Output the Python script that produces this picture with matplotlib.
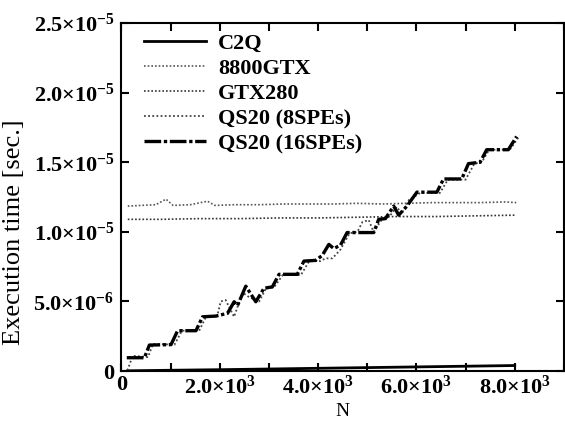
import numpy as np
import matplotlib
matplotlib.use("Agg")
import matplotlib.pyplot as plt
from matplotlib.ticker import FuncFormatter

# ── Data ─────────────────────────────────────────────────────────────────────
c2q_n = [128, 1000, 2000, 3000, 4000, 5000, 6000, 7000, 8000]
c2q_t = [0.02e-6, 0.06e-6, 0.10e-6, 0.15e-6, 0.20e-6, 0.25e-6, 0.30e-6, 0.35e-6, 0.40e-6]

gtx8800_n = [128, 400, 700, 905, 1050, 1400, 1750, 1900, 2300, 2800, 3300,
             3800, 4300, 4800, 5300, 5800, 6300, 6800, 7300, 7800, 8030]
gtx8800_t = [1.185e-5, 1.19e-5, 1.195e-5, 1.235e-5, 1.19e-5, 1.195e-5, 1.22e-5,
             1.19e-5, 1.195e-5, 1.195e-5, 1.20e-5, 1.20e-5, 1.20e-5, 1.205e-5,
             1.20e-5, 1.205e-5, 1.21e-5, 1.21e-5, 1.21e-5, 1.215e-5, 1.21e-5]

gtx280_n = [128, 800, 1600, 2400, 3200, 4000, 4800, 5600, 6400, 7200, 8030]
gtx280_t = [1.09e-5, 1.09e-5, 1.095e-5, 1.095e-5, 1.10e-5, 1.10e-5, 1.105e-5,
            1.11e-5, 1.11e-5, 1.115e-5, 1.12e-5]

qs8_n = [120, 230, 540, 640, 1080, 1230, 1580, 1720, 1950, 2020, 2120, 2290,
         2380, 2480, 2600, 2800, 2950, 3100, 3280, 3650, 3820, 4050, 4150, 4290,
         4450, 4640, 4800, 4900, 5030, 5130, 5300, 5450, 5600, 5700, 5850, 6080,
         6480, 6640, 7000, 7180, 7330, 7480, 7900, 8100]
qs8_t = [0.05e-6, 1.1e-6, 1.0e-6, 1.95e-6, 1.9e-6, 2.9e-6, 2.9e-6, 3.9e-6,
         4.0e-6, 5.0e-6, 5.1e-6, 3.9e-6, 4.8e-6, 5.6e-6, 5.3e-6, 5.0e-6, 6.0e-6,
         6.0e-6, 6.9e-6, 6.9e-6, 7.9e-6, 7.9e-6, 8.1e-6, 8.1e-6, 8.7e-6, 9.9e-6,
         10.0e-6, 10.7e-6, 10.85e-6, 10.0e-6, 10.9e-6, 11.1e-6, 11.8e-6, 11.3e-6,
         12.3e-6, 12.8e-6, 12.8e-6, 13.75e-6, 13.75e-6, 14.9e-6, 15.0e-6, 15.9e-6,
         15.9e-6, 16.9e-6]

qs16_n = [108, 467, 568, 1008, 1142, 1515, 1650, 1920, 2157, 2292, 2360, 2529,
          2732, 2900, 3070, 3205, 3577, 3712, 3950, 4083, 4219, 4320, 4456, 4590,
          5132, 5233, 5370, 5538, 5639, 5807, 6010, 6416, 6552, 6923, 7059, 7296,
          7430, 7870, 8039]
qs16_t = [0.96e-6, 0.96e-6, 1.87e-6, 1.9e-6, 2.9e-6, 2.9e-6, 3.9e-6, 3.95e-6,
          4.15e-6, 4.98e-6, 4.7e-6, 6.1e-6, 4.98e-6, 5.95e-6, 6.05e-6, 6.95e-6,
          6.95e-6, 7.9e-6, 7.95e-6, 8.3e-6, 9.1e-6, 8.8e-6, 9.05e-6, 9.95e-6,
          9.95e-6, 10.9e-6, 10.95e-6, 11.85e-6, 11.2e-6, 11.85e-6, 12.85e-6,
          12.85e-6, 13.8e-6, 13.8e-6, 14.9e-6, 15.0e-6, 15.9e-6, 15.9e-6, 16.85e-6]

x_ticks = [0, 1000, 2000, 3000, 4000, 5000, 6000, 7000, 8000, 9000]
y_ticks = [0, 5e-6, 1e-5, 1.5e-5, 2e-5, 2.5e-5]

# ── Style ────────────────────────────────────────────────────────────────────
plt.rcParams.update({
    "font.family": "Liberation Serif",
    "font.weight": "bold",
    "font.size": 16,
    "mathtext.fontset": "custom",
    "mathtext.rm": "Liberation Serif:bold",
    "mathtext.it": "Liberation Serif:bold",
    "mathtext.bf": "Liberation Serif:bold",
    "axes.linewidth": 1.5,
})


def sci(v, pos=None):
    if v == 0:
        return "0"
    exp = int(np.floor(np.log10(abs(v))))
    mant = v / 10 ** exp
    return rf"${mant:.1f}{{\times}}10^{{{exp}}}$"


def xfmt(v, pos=None):
    if v == 0:
        return "0"
    if int(round(v)) % 2000 != 0:
        return ""
    return sci(v)


fig = plt.figure(figsize=(5.65, 4.30), dpi=100)
ax = fig.add_axes([0.215, 0.137, 0.783, 0.8095])

ax.plot(c2q_n, c2q_t, color="black", lw=2.0, label="C2Q")
ax.plot(gtx8800_n, gtx8800_t, color="#555555", lw=1.2, ls=(0, (1, 1.2)), label="8800GTX")
ax.plot(gtx280_n, gtx280_t, color="#333333", lw=1.2, ls=(0, (1, 1.2)), label="GTX280")
ax.plot(qs8_n, qs8_t, color="#444444", lw=1.3, ls=(0, (1, 1.3)), label="QS20 (8SPEs)")
ax.plot(qs16_n, qs16_t, color="black", lw=2.4, ls=(0, (5, 0.8, 1, 0.8)), label="QS20 (16SPEs)")

ax.set_xlim(0, 9000)
ax.set_ylim(0, 2.5e-5)
ax.set_xticks(x_ticks)
ax.set_yticks(y_ticks)
ax.xaxis.set_major_formatter(FuncFormatter(xfmt))
ax.yaxis.set_major_formatter(FuncFormatter(sci))
ax.tick_params(direction="in", length=6, width=1.5, top=True, right=True)
ax.tick_params(axis="x", pad=3)
ax.tick_params(axis="y", pad=5)

ax.set_xlabel("N", fontsize=14, labelpad=3)
ax.set_ylabel("Execution time [sec.]", fontsize=19, fontweight="normal")
ax.yaxis.set_label_coords(-0.218, 0.40)

ax.legend(loc="upper left", bbox_to_anchor=(0.05, 0.97), frameon=False,
          borderpad=0, borderaxespad=0, labelspacing=0.2,
          handlelength=2.8, handletextpad=0.55)

fig.savefig("out.png", dpi=100)
